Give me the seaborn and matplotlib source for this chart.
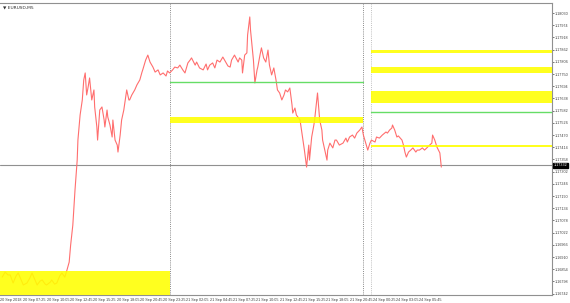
import matplotlib
matplotlib.use("Agg")
import matplotlib.pyplot as plt
import seaborn as sns
import pandas as pd
from matplotlib.patches import Rectangle

# ---------------- data ----------------
bars = [3, 7, 11, 14, 18, 22, 25, 29, 32, 37, 41, 44, 48, 51, 55, 58, 62, 64, 69, 71,
        75, 78, 82, 85, 89, 92, 95, 97, 100, 103, 106, 107, 110, 113, 115, 117, 119, 121, 123, 126,
        129, 130, 133, 134, 137, 140, 143, 144, 147, 148, 151, 154, 155, 158, 161, 162, 165, 167, 170, 174,
        177, 178, 181, 185, 188, 192, 195, 196, 200, 203, 206, 210, 213, 217, 220, 224, 228, 230, 233, 237,
        240, 244, 247, 251, 254, 258, 261, 263, 268, 270, 274, 279, 283, 285, 288, 292, 295, 298, 302, 306,
        310, 313, 316, 318, 322, 327, 329, 332, 333, 336, 339, 340, 343, 344, 346, 348, 350, 353, 354, 357,
        359, 362, 365, 368, 370, 373, 376, 379, 381, 384, 387, 390, 392, 395, 398, 401, 402, 405, 407, 412,
        414, 416, 418, 421, 424, 425, 428, 431, 432, 435, 436, 439, 442, 443, 446, 449, 450, 453, 457, 460,
        462, 466, 471, 475, 477, 480, 484, 487, 490, 494, 497, 499, 501, 504, 505, 508, 510, 515, 517, 521,
        525, 530, 532, 535, 538, 539, 542, 545, 547, 552, 554, 556, 558, 561, 564, 567, 571, 573, 576, 580,
        583, 586, 590, 593, 594, 597, 600, 602, 604, 605, 606]
prices = [1.16818, 1.16841, 1.16828, 1.16828, 1.16791, 1.16823, 1.16837, 1.16805, 1.16782, 1.16791,
          1.16814, 1.16837, 1.16805, 1.16782, 1.16800, 1.16805, 1.16786, 1.16782, 1.16795, 1.16805,
          1.16786, 1.16791, 1.16823, 1.16837, 1.16818, 1.16851, 1.16887, 1.16965, 1.17057, 1.17218,
          1.17355, 1.17447, 1.17562, 1.17631, 1.17723, 1.17755, 1.17654, 1.17690, 1.17732, 1.17631,
          1.17677, 1.17599, 1.17507, 1.17447, 1.17585, 1.17599, 1.17539, 1.17507, 1.17585, 1.17553,
          1.17516, 1.17461, 1.17539, 1.17447, 1.17424, 1.17392, 1.17470, 1.17539, 1.17585, 1.17677,
          1.17631, 1.17631, 1.17654, 1.17677, 1.17700, 1.17723, 1.17759, 1.17769, 1.17814, 1.17837,
          1.17805, 1.17782, 1.17759, 1.17769, 1.17746, 1.17755, 1.17741, 1.17764, 1.17755, 1.17769,
          1.17782, 1.17778, 1.17791, 1.17769, 1.17755, 1.17801, 1.17814, 1.17824, 1.17791, 1.17805,
          1.17778, 1.17769, 1.17796, 1.17769, 1.17791, 1.17801, 1.17778, 1.17814, 1.17805, 1.17828,
          1.17805, 1.17787, 1.17782, 1.17814, 1.17837, 1.17805, 1.17824, 1.17814, 1.17755, 1.17837,
          1.17847, 1.17929, 1.18012, 1.17952, 1.17883, 1.17814, 1.17709, 1.17769, 1.17782, 1.17837,
          1.17870, 1.17824, 1.17805, 1.17860, 1.17791, 1.17746, 1.17778, 1.17723, 1.17677, 1.17663,
          1.17631, 1.17654, 1.17677, 1.17668, 1.17686, 1.17608, 1.17571, 1.17594, 1.17562, 1.17539,
          1.17493, 1.17447, 1.17401, 1.17323, 1.17424, 1.17355, 1.17461, 1.17516, 1.17539, 1.17631,
          1.17663, 1.17539, 1.17493, 1.17447, 1.17401, 1.17355, 1.17401, 1.17433, 1.17411, 1.17447,
          1.17447, 1.17424, 1.17433, 1.17456, 1.17438, 1.17461, 1.17470, 1.17456, 1.17479, 1.17493,
          1.17507, 1.17470, 1.17447, 1.17411, 1.17401, 1.17433, 1.17447, 1.17438, 1.17461, 1.17456,
          1.17470, 1.17484, 1.17479, 1.17493, 1.17502, 1.17516, 1.17493, 1.17461, 1.17466, 1.17447,
          1.17424, 1.17392, 1.17369, 1.17392, 1.17401, 1.17411, 1.17392, 1.17401, 1.17401, 1.17411,
          1.17401, 1.17411, 1.17424, 1.17433, 1.17470, 1.17447, 1.17415, 1.17401, 1.17388, 1.17355,
          1.17323]

x_tick_labels = ["20 Sep 2018", "20 Sep 07:25", "20 Sep 10:05", "20 Sep 12:45", "20 Sep 15:25",
                 "20 Sep 18:05", "20 Sep 20:45", "20 Sep 23:25", "21 Sep 02:05", "21 Sep 04:45",
                 "21 Sep 07:25", "21 Sep 10:05", "21 Sep 12:45", "21 Sep 15:25", "21 Sep 18:05",
                 "21 Sep 20:45", "24 Sep 00:25", "24 Sep 03:05", "24 Sep 05:45"]
x_tick_bars = [0, 32, 64, 96, 128, 160, 192, 224, 256, 288, 320, 352, 384, 416, 448, 480, 512, 544, 576]

y_tick_values = [1.18030, 1.17974, 1.17918, 1.17862, 1.17806, 1.17750, 1.17694, 1.17638,
                 1.17582, 1.17526, 1.17470, 1.17414, 1.17358, 1.17302, 1.17246, 1.17190,
                 1.17134, 1.17078, 1.17022, 1.16966, 1.16910, 1.16854, 1.16798, 1.16742]

# supply/demand zones: start bar, end bar, low, high
zone_start = [0, 233, 510, 510, 510, 510]
zone_end = [233, 498, 758, 758, 758, 758]
zone_low = [1.16736, 1.17525, 1.17846, 1.17755, 1.17617, 1.17415]
zone_high = [1.16846, 1.17553, 1.17860, 1.17782, 1.17672, 1.17424]

# green levels: start bar, end bar, price
green_start = [233, 510]
green_end = [498, 758]
green_price = [1.17713, 1.17576]

session_lines = [233, 498, 510]
current_price = 1.17332
symbol_label = "▼ EURUSD,M5"

x_min, x_max = 0, 758
y_min, y_max = 1.16736, 1.18076

# ---------------- plot ----------------
sns.set_style("white")
plt.rcParams['font.family'] = ['Liberation Sans Narrow', 'Liberation Sans', 'DejaVu Sans']

fig = plt.figure(figsize=(5.70, 3.03), dpi=100)
ax = fig.add_axes([0.0, 8 / 303, 552 / 570, 292 / 303])

df = pd.DataFrame({"bar": bars, "price": prices})
sns.lineplot(data=df, x="bar", y="price", ax=ax, color="#ff6e6e", linewidth=0.8, zorder=2)

for x0, x1, lo, hi in zip(zone_start, zone_end, zone_low, zone_high):
    ax.add_patch(Rectangle((x0, lo), x1 - x0, hi - lo, facecolor="#ffff00",
                           edgecolor="none", alpha=0.88, zorder=3))

for x0, x1, p in zip(green_start, green_end, green_price):
    ax.plot([x0, x1], [p, p], color="#66dd66", linewidth=1.0, zorder=4)

ax.axhline(current_price, color="#909090", linewidth=0.8, zorder=1)
for i, xv in enumerate(session_lines):
    ax.axvline(xv, color="#8a8a8a" if i < 2 else "#c0c0c0",
               linestyle=(0, (1, 1.2)), linewidth=0.7, zorder=1)

ax.set_xlim(x_min, x_max)
ax.set_ylim(y_min, y_max)

ax.yaxis.tick_right()
ax.set_yticks(y_tick_values)
ax.set_yticklabels([f"{v:.5f}" for v in y_tick_values])
ax.set_xticks(x_tick_bars)
ax.set_xticklabels(x_tick_labels, ha="left")
ax.tick_params(axis="both", labelsize=2.7, colors="#404040", length=1.5, width=0.5)
ax.tick_params(axis="y", direction="out", pad=0.6)
ax.tick_params(axis="x", pad=0.6)
ax.set_xlabel("")
ax.set_ylabel("")

for side in ["top", "right", "bottom"]:
    ax.spines[side].set_visible(True)
    ax.spines[side].set_color("#909090")
    ax.spines[side].set_linewidth(0.8)
ax.spines["left"].set_visible(False)

ax.annotate(f"{current_price:.5f}", xy=(1.0, current_price), xycoords=("axes fraction", "data"),
            xytext=(1.0, 0), textcoords="offset points", fontsize=2.7, color="white",
            va="center", ha="left",
            bbox=dict(boxstyle="square,pad=0.1", facecolor="black", edgecolor="black"),
            annotation_clip=False)

ax.text(0.006, 0.992, symbol_label, transform=ax.transAxes, fontsize=3.2,
        color="#303030", va="top", ha="left", family=['DejaVu Sans'])

fig.savefig("out.png", dpi=100)
